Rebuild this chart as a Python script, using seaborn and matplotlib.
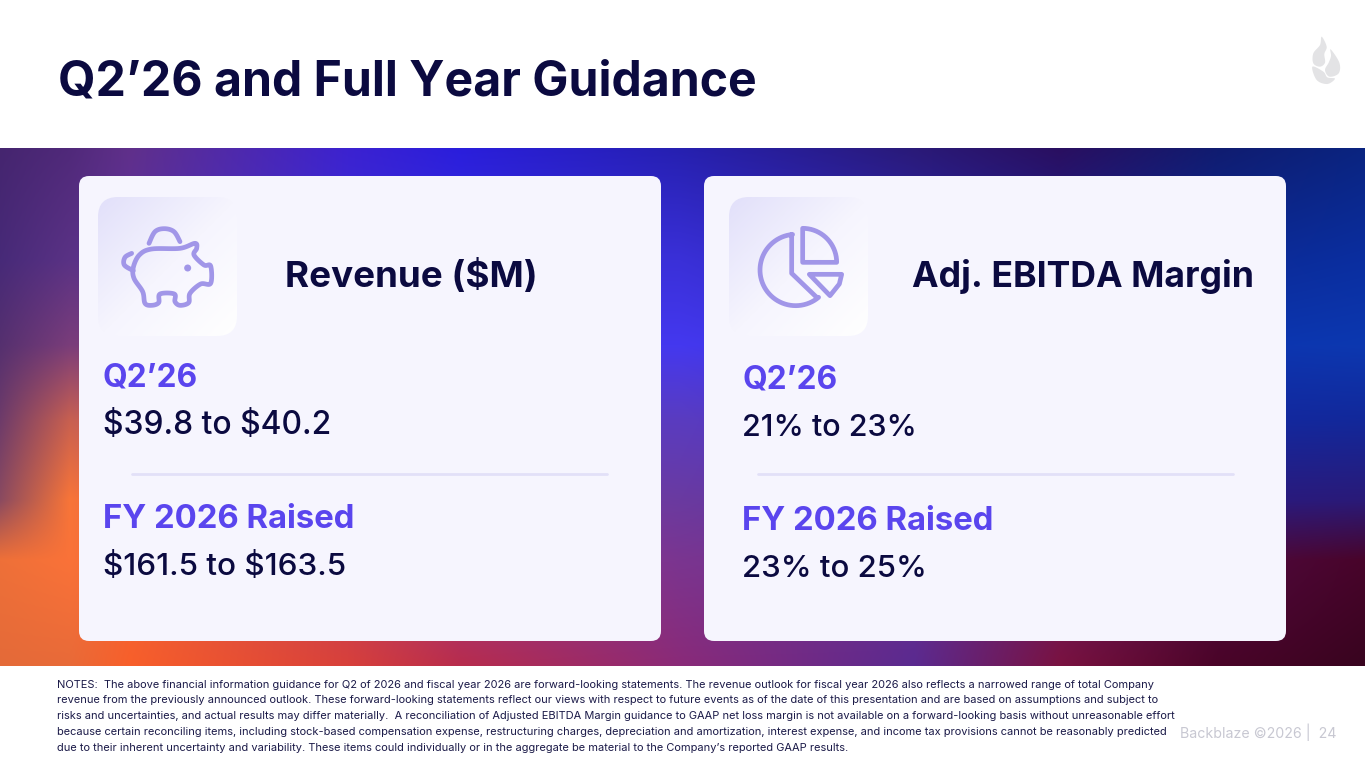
import numpy as np
import matplotlib
matplotlib.use("Agg")
import matplotlib.pyplot as plt
import seaborn as sns
from matplotlib.patches import FancyBboxPatch, Polygon, Circle
from matplotlib.colors import to_rgb

sns.set_theme(style="white")
FONT = ["Inter", "DejaVu Sans"]
plt.rcParams["font.family"] = FONT

TITLE = "Q2’26 and Full Year Guidance"
CARD_TITLES = ["Revenue ($M)", "Adj. EBITDA Margin"]
PERIODS = ["Q2’26", "FY 2026 Raised"]
REVENUE = ["$39.8 to $40.2", "$161.5 to $163.5"]
MARGIN = ["21% to 23%", "23% to 25%"]
NOTES = [
    "NOTES:  The above financial information guidance for Q2 of 2026 and fiscal year 2026 are forward-looking statements. The revenue outlook for fiscal year 2026 also reflects a narrowed range of total Company",
    "revenue from the previously announced outlook. These forward-looking statements reflect our views with respect to future events as of the date of this presentation and are based on assumptions and subject to",
    "risks and uncertainties, and actual results may differ materially.  A reconciliation of Adjusted EBITDA Margin guidance to GAAP net loss margin is not available on a forward-looking basis without unreasonable effort",
    "because certain reconciling items, including stock-based compensation expense, restructuring charges, depreciation and amortization, interest expense, and income tax provisions cannot be reasonably predicted",
    "due to their inherent uncertainty and variability. These items could individually or in the aggregate be material to the Company’s reported GAAP results.",
]
FOOTER = "Backblaze ©2026 |  24"

NAVY = "#0b0a40"
PURPLE = "#5a45ee"
ICON = "#a196e8"
CARD = "#f6f5fe"

GX = [0, 70, 130, 348, 460, 680, 914, 1060, 1218, 1365]
GY = [148, 260, 345, 420, 500, 560, 666]
GRID = [
    ["#45256f", "#50297a", "#60308a", "#3c22d0", "#2a1edc", "#2620b0", "#2a1a78", "#2a0f60", "#101c70", "#0a2480"],
    ["#472a78", "#5a3285", "#5c2fa0", "#3c2fd8", "#3a30e0", "#3a30d8", "#2c26b0", "#1c2090", "#0c2a95", "#0a2ea0"],
    ["#55306f", "#7a3d7a", "#7e3a80", "#5a35c0", "#4438ef", "#4438ef", "#3a34d8", "#2030c0", "#0c34b0", "#0c38b0"],
    ["#6d3b6a", "#c86050", "#c05a70", "#7040a8", "#5a3cc0", "#5a3cc0", "#4a30c0", "#3028b0", "#1428a0", "#12289a"],
    ["#8a4a60", "#f87538", "#e86048", "#a04878", "#7a3ba0", "#6a3aa0", "#5a30a0", "#3a2080", "#2a1a80", "#2a1a78"],
    ["#ee7038", "#fa7238", "#f06438", "#c04060", "#a03888", "#7a3590", "#6a3090", "#6a1a60", "#500a40", "#48042a"],
    ["#e46a38", "#e86a38", "#f85f2a", "#d8403a", "#b82c4c", "#8a2a78", "#5a2a90", "#7a1240", "#4a0428", "#38041f"],
]

W, H = 1365, 768
fig = plt.figure(figsize=(W / 100, H / 100), dpi=100, facecolor="white")
ax = fig.add_axes([0, 0, 1, 1])
ax.set_xlim(0, W)
ax.set_ylim(H, 0)
ax.axis("off")

# background gradient
rgb = np.array([[to_rgb(c) for c in row] for row in GRID])
xs = np.arange(W) + 0.5
ys = np.arange(148, 666) + 0.5
col_interp = np.stack([[np.interp(xs, GX, rgb[r, :, k]) for r in range(len(GY))] for k in range(3)], axis=-1)
img = np.stack([[np.interp(ys, GY, col_interp[:, c, k]) for c in range(W)] for k in range(3)], axis=-1)
img = np.transpose(img, (1, 0, 2))
ax.imshow(img, extent=(0, W, 666, 148), aspect="auto", interpolation="bilinear", zorder=0)
ax.set_xlim(0, W)
ax.set_ylim(H, 0)

renderer = fig.canvas.get_renderer()


def fit(text, x0, x1, base, color, weight="normal", size=None):
    t = ax.text(x0, base, text, color=color, fontweight=weight, fontsize=10, family=FONT,
                ha="left", va="baseline", zorder=5, parse_math=False)
    if size is None:
        w = t.get_window_extent(renderer).width
        size = 10 * (x1 - x0) / w
    t.set_fontsize(size)
    return size


def rbox(x0, y0, x1, y1, r, fc, z):
    p = FancyBboxPatch((x0 + r, y0 + r), x1 - x0 - 2 * r, y1 - y0 - 2 * r,
                       boxstyle=f"round,pad={r},rounding_size={r}", fc=fc, ec="none", zorder=z)
    ax.add_patch(p)
    return p


def smooth(pts, closed=False, n=10):
    pts = np.asarray(pts, float)
    if closed:
        P = np.vstack([pts[-1], pts, pts[0], pts[1]])
    else:
        P = np.vstack([pts[0], pts, pts[-1]])
    out = []
    for i in range(1, len(P) - 2):
        for t in np.linspace(0, 1, n, endpoint=False):
            out.append(0.5 * (2 * P[i] + (P[i + 1] - P[i - 1]) * t
                              + (2 * P[i - 1] - 5 * P[i] + 4 * P[i + 1] - P[i + 2]) * t ** 2
                              + (3 * P[i] - P[i - 1] - 3 * P[i + 1] + P[i + 2]) * t ** 3))
    out.append(P[-2])
    return np.array(out)


def tile(x0, y0, x1, y1):
    pal = np.array(sns.blend_palette(["#e2e0fa", "#f6f5fe", "#ffffff"], 100))
    yy, xx = np.mgrid[0:1:120j, 0:1:120j]
    idx = np.clip(((xx + yy) / 2 * 99).astype(int), 0, 99)
    im = ax.imshow(pal[idx], extent=(x0, x1, y1, y0), aspect="auto", zorder=2, interpolation="bilinear")
    clip = rbox(x0, y0, x1, y1, 20, "none", 2)
    im.set_clip_path(clip)
    ax.set_xlim(0, W)
    ax.set_ylim(H, 0)


def stroke(pts, lw=3.4, closed=False):
    v = np.asarray(pts)
    ax.add_patch(Polygon(v, closed=closed, fill=False, ec=ICON, lw=lw, joinstyle="round", capstyle="round", zorder=4))


# cards
rbox(79, 176, 661, 641, 10, CARD, 1)
rbox(704, 176, 1286, 641, 10, CARD, 1)
tile(98, 197, 237, 336)
tile(729, 197, 868, 336)

# piggy icon
zp = lambda pts, ox, oy: np.array(pts, float) / 3 + [ox, oy]
body = [(160, 262), (178, 225), (215, 207), (300, 205), (345, 190), (350, 205), (342, 225), (372, 255), (392, 258),
        (392, 310), (362, 312), (330, 340), (326, 368), (300, 376), (285, 365), (283, 342), (240, 342), (236, 368),
        (215, 376), (195, 370), (188, 335), (162, 295)]
stroke(smooth(zp(body, 80, 180), closed=True), closed=True)
stroke(smooth(zp([(207, 190), (225, 155), (253, 146), (282, 155), (300, 185)], 80, 180)))
stroke(smooth(zp([(155, 220), (135, 232), (133, 255), (160, 272)], 80, 180)))
ax.add_patch(Circle((80 + 323 / 3, 180 + 264 / 3), 3.5, fc=ICON, ec="none", zorder=4))

# pie icon
cx, cy, R = 257, 270, 107
a2 = np.radians(np.linspace(95, 310, 50))
arc2 = [(cx + R * np.cos(t), cy - R * np.sin(t)) for t in a2]
big = [(245, 280), (245, 163)] + arc2 + [(320, 352)]
stroke(zp(big, 710, 180), closed=True)
a3 = np.radians(np.linspace(90, 0, 20))
wedge = [(278, 247), (278, 145)] + [(278 + 102 * np.cos(t), 247 - 102 * np.sin(t)) for t in a3]
stroke(zp(wedge, 710, 180), closed=True)
tri = [(298, 283), (395, 283), (388, 312), (360, 347)]
stroke(zp(tri, 710, 180), closed=True)

# flame logo
GREY = "#e3e3e5"
fl1 = [(155, 50), (170, 80), (163, 102), (165, 128), (150, 140), (130, 130), (130, 100), (150, 75)]
fl2 = [(182, 88), (208, 128), (206, 160), (178, 170), (165, 150), (176, 128), (183, 108)]
fl3 = [(127, 140), (160, 155), (172, 172), (195, 176), (172, 192), (140, 180)]
for f in (fl1, fl2, fl3):
    ax.add_patch(Polygon(smooth(zp(f, 1270, 20), closed=True), closed=True, fc=GREY, ec="none", zorder=3))

# dividers
ax.plot([132, 607], [474, 474], color="#e2e0f8", lw=2, solid_capstyle="round", zorder=3)
ax.plot([758, 1233], [474, 474], color="#e2e0f8", lw=2, solid_capstyle="round", zorder=3)

# text
fit(TITLE, 58, 757, 96, NAVY, "bold")
fit(CARD_TITLES[0], 285, 537, 287, NAVY, "bold")
fit(CARD_TITLES[1], 912, 1253, 287, NAVY, "bold")
fit(PERIODS[0], 103, 198, 386, PURPLE, "bold")
fit(REVENUE[0], 103, 332, 434, NAVY, "medium")
fit(PERIODS[1], 103, 355, 528, PURPLE, "bold")
fit(REVENUE[1], 103, 347, 575, NAVY, "medium")
fit(PERIODS[0], 742, 837, 388, PURPLE, "bold")
fit(MARGIN[0], 742, 918, 436, NAVY, "medium")
fit(PERIODS[1], 742, 994, 530, PURPLE, "bold")
fit(MARGIN[1], 742, 928, 577, NAVY, "medium")

bases = [688, 703, 719, 735, 751]
size = fit(NOTES[3], 57, 1172, bases[3], "#1b1a48")
for i in (0, 1, 2, 4):
    fit(NOTES[i], 57, None, bases[i], "#1b1a48", size=size)
fit(FOOTER, 1180, 1337, 738, "#c8c8d2")

fig.savefig("out.png", dpi=100, facecolor="white")
